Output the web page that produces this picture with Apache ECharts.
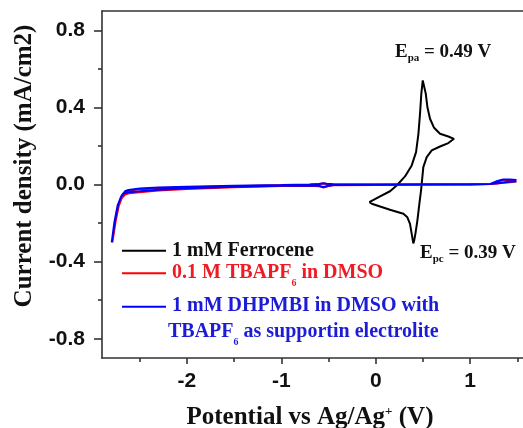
<!DOCTYPE html>
<html><head><meta charset="utf-8">
<script src="https://cdn.jsdelivr.net/npm/echarts@6/dist/echarts.min.js"></script>
<style>html,body{margin:0;padding:0;background:#fff}#c{width:523px;height:428px}</style>
</head><body><div id="c"></div>
<script>
// ---- data ----
const xMajorTicks = [-2, -1, 0, 1];
const xMinorTicks = [-2.5, -1.5, -0.5, 0.5, 1.5];
const yMajorTicks = [-0.8, -0.4, 0, 0.4, 0.8];
const yMinorTicks = [-0.6, -0.2, 0.2, 0.6];

const ferroceneV = [-0.068,0.046,0.151,0.222,0.31,0.381,0.427,0.452,0.469,0.483,0.498,0.530,0.547,0.575,0.618,0.681,0.769,0.829,0.769,0.681,0.593,0.54,0.504,0.487,0.480,0.462,0.441,0.420,0.406,0.398,0.381,0.363,0.335,0.293,0.239,0.151,0.046,-0.042,-0.068];
const ferroceneJ = [-0.092,-0.062,-0.035,-0.005,0.042,0.099,0.168,0.263,0.367,0.471,0.540,0.471,0.402,0.341,0.294,0.263,0.249,0.237,0.215,0.197,0.177,0.142,0.090,0.004,-0.031,-0.100,-0.187,-0.256,-0.294,-0.305,-0.256,-0.204,-0.170,-0.152,-0.144,-0.131,-0.114,-0.100,-0.092];

const tbapfV = [1.49,1.42,1.35,1.29,1.21,1.0,0.5,0.0,-0.45,-0.52,-0.555,-0.6,-0.7,-1.0,-1.5,-2.0,-2.3,-2.5,-2.612,-2.648,-2.683,-2.72,-2.755,-2.79,-2.762,-2.727,-2.692,-2.657,-2.612,-2.5,-2.3,-2.0,-1.5,-1.0,-0.7,-0.6,-0.555,-0.5,-0.45,0.0,0.5,1.0,1.21,1.29,1.35,1.42,1.49];
const tbapfJ = [0.021,0.023,0.023,0.015,0.002,0.001,0.0,0.0,0.0,0.003,0.005,0.002,-0.001,-0.004,-0.009,-0.014,-0.019,-0.024,-0.032,-0.040,-0.062,-0.105,-0.190,-0.300,-0.205,-0.118,-0.072,-0.052,-0.046,-0.040,-0.031,-0.023,-0.014,-0.008,-0.006,-0.009,-0.016,-0.008,-0.004,-0.002,-0.001,0.0,0.002,0.005,0.009,0.012,0.015];

const dhpmbiV = [1.49,1.42,1.35,1.29,1.21,1.0,0.5,0.0,-0.45,-0.52,-0.555,-0.6,-0.7,-1.0,-1.5,-2.0,-2.3,-2.5,-2.62,-2.656,-2.691,-2.727,-2.762,-2.797,-2.77,-2.735,-2.70,-2.665,-2.62,-2.5,-2.3,-2.0,-1.5,-1.0,-0.7,-0.6,-0.555,-0.5,-0.45,0.0,0.5,1.0,1.21,1.29,1.35,1.42,1.49];
const dhpmbiJ = [0.024,0.026,0.026,0.018,0.002,0.001,0.001,0.0,0.001,0.004,0.006,0.003,0.0,-0.003,-0.007,-0.012,-0.016,-0.021,-0.028,-0.035,-0.057,-0.100,-0.187,-0.300,-0.200,-0.110,-0.065,-0.045,-0.040,-0.035,-0.027,-0.020,-0.012,-0.007,-0.005,-0.007,-0.013,-0.007,-0.003,-0.001,0.0,0.0,0.002,0.006,0.010,0.014,0.017];

const zip = (a, b) => a.map((v, i) => [v, b[i]]);

// ---- chart ----
const chart = echarts.init(document.getElementById('c'), null, {renderer: 'canvas'});
const axisCol = '#333';
const tickFont = {fontFamily: 'Liberation Sans', fontWeight: 'bold', fontSize: 21, color: '#111'};
const serifB = (s) => 'bold ' + s + 'px "Liberation Serif"';
const X_MIN = -2.9, X_MAX = 1.56;

function xAxisDef(kind) {
  const major = kind === 'major';
  if (kind === 'top') {
    return {type: 'value', min: X_MIN, max: X_MAX, position: 'top', gridIndex: 0,
      axisLine: {show: true, onZero: false, lineStyle: {color: axisCol, width: 1.6}},
      axisTick: {show: false}, axisLabel: {show: false}, splitLine: {show: false}};
  }
  return {
    type: 'value', min: X_MIN, max: X_MAX, position: 'bottom', gridIndex: 0,
    axisLine: {show: major, onZero: false, lineStyle: {color: axisCol, width: 1.6}},
    axisTick: {show: true, inside: false, length: major ? 6 : 4,
      customValues: major ? xMajorTicks : xMinorTicks,
      lineStyle: {color: axisCol, width: 1.6}},
    axisLabel: major ? Object.assign({customValues: xMajorTicks, margin: 13,
      formatter: v => String(v)}, tickFont) : {show: false},
    splitLine: {show: false}
  };
}
function yAxisDef(major) {
  return {
    type: 'value', min: -0.9, max: 0.9, position: 'left', gridIndex: 0,
    axisLine: {show: major, onZero: false, lineStyle: {color: axisCol, width: 1.6}},
    axisTick: {show: true, inside: false, length: major ? 8 : 4,
      customValues: major ? yMajorTicks : yMinorTicks,
      lineStyle: {color: axisCol, width: 1.6}},
    axisLabel: major ? Object.assign({customValues: yMajorTicks, margin: 17,
      formatter: v => v.toFixed(1)}, tickFont) : {show: false},
    splitLine: {show: false}
  };
}

function legendText(text, fill, x, y) {
  return {type: 'text', x: x, y: y, z: 100, style: {
    text: text, fill: fill, font: serifB(20), align: 'left', verticalAlign: 'top',
    rich: {
      m: {font: serifB(20), lineHeight: 20, verticalAlign: 'top'},
      s: {font: serifB(10), lineHeight: 10, verticalAlign: 'top', padding: [16, 0, 0, 0]}
    }
  }};
}
function legendLine(color, y) {
  return {type: 'line', z: 100, shape: {x1: 122, y1: y, x2: 166, y2: y},
    style: {stroke: color, lineWidth: 2}};
}
function peakText(main, sub, rest, x, y) {
  return {type: 'text', x: x, y: y, z: 100, style: {
    text: '{m|' + main + '}{s|' + sub + '}{m|' + rest + '}', fill: '#111',
    font: serifB(19), align: 'left', verticalAlign: 'top',
    rich: {
      m: {font: serifB(19), lineHeight: 19, verticalAlign: 'top'},
      s: {font: serifB(11), lineHeight: 11, verticalAlign: 'top', padding: [10, 0, 0, 0]}
    }
  }};
}

const option = {
  animation: false,
  backgroundColor: '#fff',
  grid: {left: 102, top: 11, right: 0, bottom: 70, show: false, containLabel: false},
  xAxis: [xAxisDef('major'), xAxisDef('minor'), xAxisDef('top')],
  yAxis: [yAxisDef(true), yAxisDef(false)],
  series: [
    {name: '1 mM Ferrocene', type: 'line', data: zip(ferroceneV, ferroceneJ), showSymbol: false,
      lineStyle: {color: '#000', width: 2}, itemStyle: {color: '#000'}},
    {name: '0.1 M TBAPF6 in DMSO', type: 'line', data: zip(tbapfV, tbapfJ), showSymbol: false,
      lineStyle: {color: '#ff0000', width: 2}, itemStyle: {color: '#ff0000'}},
    {name: '1 mM DHPMBI in DMSO', type: 'line', data: zip(dhpmbiV, dhpmbiJ), showSymbol: false,
      lineStyle: {color: '#0000ff', width: 2}, itemStyle: {color: '#0000ff'}}
  ],
  graphic: [
    {type: 'text', x: 25, y: 166, rotation: Math.PI / 2, style: {
      text: 'Current density (mA/cm2)', font: serifB(25), fill: '#111',
      align: 'center', verticalAlign: 'middle'}},
    {type: 'text', x: 310, y: 405.5, style: {
      text: '{m|Potential vs Ag/Ag}{p|+}{m| (V)}', fill: '#111', font: serifB(25),
      align: 'center', verticalAlign: 'top',
      rich: {
        m: {font: serifB(25), lineHeight: 25, verticalAlign: 'top'},
        p: {font: serifB(13), lineHeight: 13, verticalAlign: 'top'}
      }}},
    peakText('E', 'pa', ' = 0.49 V', 395, 43),
    peakText('E', 'pc', ' = 0.39 V', 420, 244),
    legendLine('#000000', 250.7),
    legendLine('#ff0000', 273.3),
    legendLine('#0000ff', 306.7),
    legendText('{m|1 mM Ferrocene}', '#111111', 172, 241),
    legendText('{m|0.1 M TBAPF}{s|6}{m| in DMSO}', '#ee1c24', 172, 262.7),
    legendText('{m|1 mM DHPMBI in DMSO with}', '#1c1cd6', 172, 296),
    legendText('{m|TBAPF}{s|6}{m| as supportin electrolite}', '#1c1cd6', 168, 321.7)
  ]
};
chart.setOption(option);
</script></body></html>
